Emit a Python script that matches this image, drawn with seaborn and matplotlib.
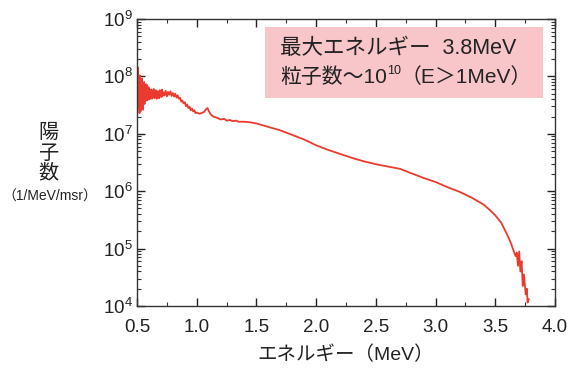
import numpy as np
import matplotlib
matplotlib.use("Agg")
import matplotlib.pyplot as plt
import seaborn as sns
from matplotlib.ticker import LogLocator, MultipleLocator, FixedLocator, FixedFormatter
from matplotlib.patches import Rectangle

sns.set_theme(style="ticks")
plt.rcParams['font.family'] = ['Liberation Sans', 'Noto Sans CJK JP', 'DejaVu Sans']
plt.rcParams['mathtext.fontset'] = 'custom'
plt.rcParams['mathtext.rm'] = 'Liberation Sans'
plt.rcParams['mathtext.it'] = 'Liberation Sans'

# Energy (MeV) and log10(proton count per MeV per msr)
energy = [0.500, 0.503, 0.506, 0.509, 0.512, 0.515, 0.518, 0.521, 0.524, 0.527,
          0.530, 0.533, 0.536, 0.539, 0.542, 0.545, 0.548, 0.551, 0.554, 0.557,
          0.560, 0.563, 0.566, 0.569, 0.572, 0.575, 0.580, 0.585, 0.590, 0.595,
          0.600, 0.605, 0.610, 0.615, 0.620, 0.625, 0.630, 0.635, 0.640, 0.645,
          0.650, 0.655, 0.660, 0.665, 0.670, 0.675, 0.680, 0.685, 0.690, 0.695,
          0.700, 0.705, 0.710, 0.715, 0.720, 0.730, 0.740, 0.750, 0.760, 0.770,
          0.780, 0.790, 0.800, 0.810, 0.820, 0.830, 0.840, 0.850, 0.860, 0.870,
          0.880, 0.890, 0.900, 0.910, 0.920, 0.930, 0.940, 0.950, 0.960, 0.970,
          0.980, 0.990, 1.000, 1.020, 1.040, 1.060, 1.080, 1.090, 1.100, 1.120,
          1.140, 1.170, 1.200, 1.230, 1.250, 1.280, 1.300, 1.330, 1.350, 1.400,
          1.450, 1.500, 1.550, 1.600, 1.650, 1.700, 1.750, 1.800, 1.850, 1.900,
          1.950, 2.000, 2.100, 2.200, 2.300, 2.400, 2.500, 2.600, 2.700, 2.800,
          2.900, 3.000, 3.100, 3.200, 3.300, 3.400, 3.450, 3.500, 3.550, 3.600,
          3.630, 3.650, 3.670, 3.680, 3.690, 3.700, 3.710, 3.720, 3.730, 3.740,
          3.755, 3.765, 3.770, 3.780]
log_count = [7.95, 7.55, 8.16, 7.60, 7.98, 7.45, 7.90, 7.36, 8.02, 7.50,
             7.92, 7.40, 7.85, 7.62, 7.96, 7.50, 7.88, 7.42, 7.84, 7.60,
             7.90, 7.52, 7.86, 7.58, 7.82, 7.60, 7.86, 7.58, 7.82, 7.60,
             7.80, 7.60, 7.76, 7.64, 7.77, 7.61, 7.74, 7.66, 7.78, 7.62,
             7.73, 7.65, 7.76, 7.61, 7.74, 7.67, 7.72, 7.62, 7.76, 7.65,
             7.73, 7.64, 7.77, 7.66, 7.72, 7.67, 7.75, 7.65, 7.73, 7.68,
             7.74, 7.66, 7.71, 7.65, 7.70, 7.63, 7.67, 7.61, 7.63, 7.56,
             7.58, 7.53, 7.55, 7.48, 7.51, 7.45, 7.47, 7.41, 7.44, 7.39,
             7.41, 7.36, 7.37, 7.35, 7.36, 7.38, 7.43, 7.45, 7.40, 7.33,
             7.30, 7.28, 7.25, 7.26, 7.23, 7.24, 7.22, 7.23, 7.21, 7.21,
             7.20, 7.18, 7.15, 7.12, 7.09, 7.06, 7.02, 6.98, 6.94, 6.90,
             6.85, 6.80, 6.72, 6.65, 6.58, 6.52, 6.47, 6.43, 6.39, 6.31,
             6.23, 6.16, 6.07, 5.99, 5.89, 5.77, 5.68, 5.58, 5.45, 5.24,
             5.10, 4.98, 4.87, 4.93, 4.70, 4.95, 4.60, 4.78, 4.35, 4.55,
             4.20, 4.30, 4.06, 4.12]
count = [10 ** v for v in log_count]

x_ticks = [0.5, 1.0, 1.5, 2.0, 2.5, 3.0, 3.5, 4.0]
x_labels = ["0.5", "1.0", "1.5", "2.0", "2.5", "3.0", "3.5", "4.0"]
y_ticks = [1e4, 1e5, 1e6, 1e7, 1e8, 1e9]
y_labels = ["10$^{4}$", "10$^{5}$", "10$^{6}$", "10$^{7}$", "10$^{8}$", "10$^{9}$"]

TXT = "#222222"
fig = plt.figure(figsize=(5.67, 3.72), dpi=100)
ax = fig.add_axes([137/567, 1-306/372, (555-137)/567, (306-19)/372])

sns.lineplot(x=energy, y=count, ax=ax, color="#ec3b2e", lw=1.3,
             estimator=None, sort=False)

ax.set_yscale("log")
ax.set_xlim(0.5, 4.0)
ax.set_ylim(1e4, 1e9)

ax.xaxis.set_major_locator(FixedLocator(x_ticks))
ax.xaxis.set_major_formatter(FixedFormatter(x_labels))
ax.xaxis.set_minor_locator(MultipleLocator(0.25))
ax.yaxis.set_major_locator(FixedLocator(y_ticks))
ax.yaxis.set_major_formatter(FixedFormatter(y_labels))
ax.yaxis.set_minor_locator(LogLocator(base=10, subs=np.arange(2, 10), numticks=20))

ax.tick_params(which="both", direction="in", top=True, right=True, color="#333333")
ax.tick_params(which="major", length=6, width=1.0, labelsize=13.5, colors=TXT)
ax.tick_params(axis="x", which="major", pad=9)
ax.tick_params(axis="y", which="major", pad=3)
ax.tick_params(which="minor", length=3, width=0.8, color="#333333")
for s in ax.spines.values():
    s.set_color("#333333")
    s.set_linewidth(1.0)

ax.set_xlabel("エネルギー（MeV）", fontsize=14, color=TXT, labelpad=7)
ax.set_ylabel("")

# y label stacked
fig.text(48/567, 1-133/372, "陽", fontsize=14.5, ha="center", va="center", color=TXT)
fig.text(48/567, 1-153/372, "子", fontsize=14.5, ha="center", va="center", color=TXT)
fig.text(48/567, 1-173/372, "数", fontsize=14.5, ha="center", va="center", color=TXT)
fig.text(50/567, 1-197/372, "（1/MeV/msr）", fontsize=10, ha="center", va="center",
         color=TXT)

# annotation box
fig.patches.append(Rectangle((265/567, 1-98/372), (543-265)/567, 71/372,
                             transform=fig.transFigure, facecolor="#f8c6c9",
                             edgecolor="none", zorder=3))
fig.text(280/567, 1-48/372, "最大エネルギー  3.8MeV", fontsize=15.5, ha="left",
         va="center", color=TXT, zorder=4)

# second line: pieces placed one after another
fig.canvas.draw()
renderer = fig.canvas.get_renderer()
x_px = 280
y2 = 1 - 77/372
pieces = [("粒子数～10", 15, 0.0), ("10", 9, 6/372), ("（E＞1MeV）", 15, 0.0)]
for s, fs, dy in pieces:
    t = fig.text(x_px/567, y2 + dy, s, fontsize=fs, ha="left", va="center",
                 color=TXT, zorder=4)
    w = t.get_window_extent(renderer).width
    x_px += w

fig.savefig("out.png", dpi=100)
